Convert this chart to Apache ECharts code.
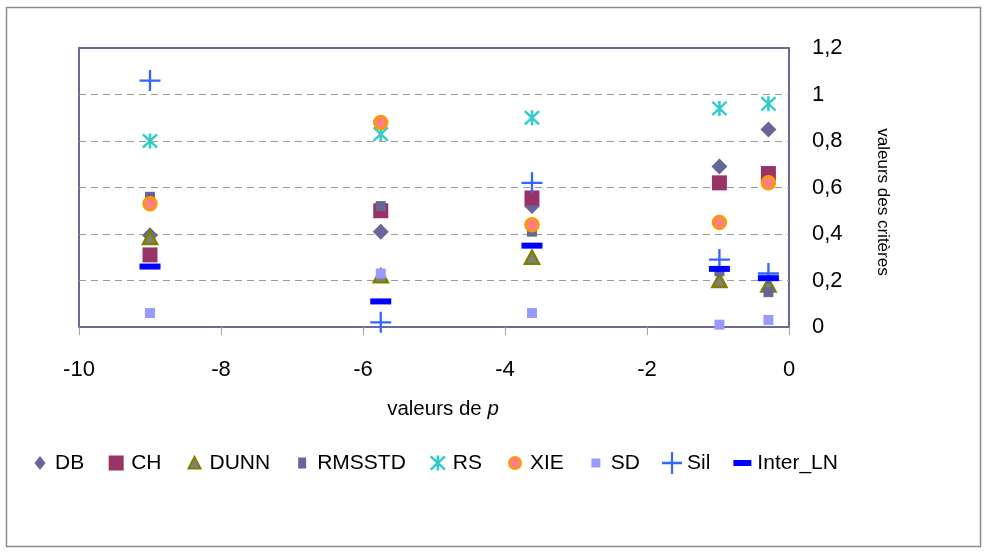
<!DOCTYPE html>
<html><head><meta charset="utf-8">
<script src="https://cdn.jsdelivr.net/npm/echarts@6/dist/echarts.min.js"></script>
<style>html,body{margin:0;padding:0;background:#fff}#c{width:987px;height:553px}</style>
</head><body><div id="c"></div>
<script>
// ---- data ----
const pValues  = [-9, -5.75, -3.62, -0.98, -0.29];
const DB       = [0.395, 0.41, 0.52, 0.69, 0.85];
const CH       = [0.31, 0.50, 0.555, 0.62, 0.66];
const DUNN     = [0.385, 0.22, 0.30, 0.20, 0.18];
const RMSSTD   = [0.56, 0.52, 0.41, 0.24, 0.15];
const RS       = [0.80, 0.83, 0.90, 0.94, 0.96];
const XIE      = [0.53, 0.88, 0.44, 0.45, 0.62];
const SD       = [0.06, 0.23, 0.06, 0.01, 0.03];
const Sil      = [1.06, 0.02, 0.62, 0.29, 0.23];
const Inter_LN = [0.26, 0.11, 0.35, 0.25, 0.21];
const seriesNames = ['DB','CH','DUNN','RMSSTD','RS','XIE','SD','Sil','Inter_LN'];
const seriesValues = [DB, CH, DUNN, RMSSTD, RS, XIE, SD, Sil, Inter_LN];
const xAxisTitle = 'valeurs de ';
const xAxisTitleItalic = 'p';
const yAxisTitle = 'valeurs des critères';

// ---- symbol shapes ----
function poly(pts, ox, oy, sx, sy) {
  return 'M' + pts.map(p => (ox + p[0]*sx).toFixed(2) + ',' + (oy + p[1]*sy).toFixed(2)).join('L') + 'Z';
}
const starUnit = [
  [[42,0],[58,0],[58,100],[42,100]],
  [[11,0],[100,89],[89,100],[0,11]],
  [[89,0],[100,11],[11,100],[0,89]]
];
const plusUnit = [[44.5,0],[55.5,0],[55.5,44.5],[100,44.5],[100,55.5],[55.5,55.5],[55.5,100],[44.5,100],[44.5,55.5],[0,55.5],[0,44.5],[44.5,44.5]];
function starPath(ox, oy, w, h) { return starUnit.map(p => poly(p, ox, oy, w/100, h/100)).join(''); }
function plusPath(ox, oy, w, h) { return poly(plusUnit, ox, oy, w/100, h/100); }

const FRAME = 'M0,0L0,0M20,22L20,22';
const legendIcons = {
  DB: 'path://' + FRAME + 'M10,4L15.5,11L10,18L4.5,11Z',
  CH: 'path://' + FRAME + 'M2.5,3.5L17.5,3.5L17.5,18.5L2.5,18.5Z',
  DUNN: 'path://' + FRAME + 'M10,5L16,16.5L4,16.5Z',
  RMSSTD: 'path://' + FRAME + 'M6,5.5L14,5.5L14,16.5L6,16.5Z',
  RS: 'path://' + FRAME + starPath(2, 3.5, 16, 15),
  XIE: 'path://' + FRAME + 'M4,11A6,6 0 1,0 16,11A6,6 0 1,0 4,11Z',
  SD: 'path://' + FRAME + 'M5.5,6.5L14.5,6.5L14.5,15.5L5.5,15.5Z',
  Sil: 'path://' + FRAME + plusPath(0, 0, 20, 22),
  Inter_LN: 'path://' + FRAME + 'M1,8L19,8L19,14L1,14Z'
};

const styles = {
  DB:       {symbol: 'diamond', size: 16, item: {color: '#666699'}},
  CH:       {symbol: 'rect', size: 15, item: {color: '#993366'}},
  DUNN:     {symbol: 'triangle', size: [14, 13], item: {color: '#808080', borderColor: '#808000', borderWidth: 2.5}},
  RMSSTD:   {symbol: 'rect', size: 10, item: {color: '#666699'}},
  RS:       {symbol: 'path://' + starPath(0, 0, 100, 100), size: [16, 15], item: {color: '#33CCCC'}},
  XIE:      {symbol: 'circle', size: 13, item: {color: '#FF8080', borderColor: '#FF9900', borderWidth: 2.5}},
  SD:       {symbol: 'rect', size: 10, item: {color: '#9999FF'}},
  Sil:      {symbol: 'path://' + plusPath(0, 0, 100, 100), size: 21, item: {color: '#3366FF'}},
  Inter_LN: {symbol: 'rect', size: [21, 6], item: {color: '#0000FF'}}
};

const FONT = 'Liberation Sans';
const chart = echarts.init(document.getElementById('c'), null, {renderer: 'canvas'});
chart.setOption({
  animation: false,
  backgroundColor: '#ffffff',
  textStyle: {fontFamily: FONT},
  graphic: [
    {type: 'rect', shape: {x: 6.5, y: 7.5, width: 974, height: 539}, style: {fill: 'none', stroke: '#8c8c8c', lineWidth: 1.5}, z: 0},
    {type: 'text', x: 883, y: 202, rotation: -Math.PI/2,
     style: {text: yAxisTitle, fontFamily: FONT, fontSize: 17, fill: '#000', textAlign: 'center', textVerticalAlign: 'middle'}}
  ],
  grid: {left: 79, right: 198, top: 48, bottom: 226, show: true, borderColor: '#6a6a99', borderWidth: 2, backgroundColor: 'transparent'},
  legend: {
    left: 25, top: 446, itemWidth: 20, itemHeight: 22, itemGap: 22,
    textStyle: {fontFamily: FONT, fontSize: 21, color: '#000'},
    data: seriesNames.map(n => ({name: n, icon: legendIcons[n]})),
    selectedMode: false
  },
  xAxis: {
    type: 'value', min: -10, max: 0, interval: 2,
    name: '{a|' + xAxisTitle + '}{b|' + xAxisTitleItalic + '}',
    nameLocation: 'middle', nameGap: 72,
    nameTextStyle: {padding: [0, 0, 0, 18], rich: {
      a: {fontFamily: FONT, fontSize: 20.5, color: '#000'},
      b: {fontFamily: FONT, fontSize: 20.5, color: '#000', fontStyle: 'italic'}
    }},
    axisLine: {show: false},
    axisTick: {show: true, length: 8, lineStyle: {color: '#a0a0a0', width: 1}},
    axisLabel: {fontFamily: FONT, fontSize: 22, color: '#000', margin: 32},
    splitLine: {show: false}
  },
  yAxis: {
    type: 'value', position: 'right', min: 0, max: 1.2, interval: 0.2,
    axisLine: {show: false}, axisTick: {show: false},
    axisLabel: {fontFamily: FONT, fontSize: 22, color: '#000', margin: 23,
      formatter: v => String(+v.toFixed(1)).replace('.', ',')},
    splitLine: {show: true, showMinLine: false, showMaxLine: false,
      lineStyle: {color: '#9a9a9a', type: [7, 5], width: 1.2}}
  },
  series: seriesNames.map((n, i) => ({
    name: n, type: 'scatter',
    symbol: styles[n].symbol, symbolSize: styles[n].size,
    itemStyle: Object.assign({opacity: 1}, styles[n].item),
    emphasis: {disabled: true},
    z: 2 + i * 0.01,
    zlevel: 0,
    data: pValues.map((x, j) => [x, seriesValues[i][j]])
  }))
});
</script></body></html>
